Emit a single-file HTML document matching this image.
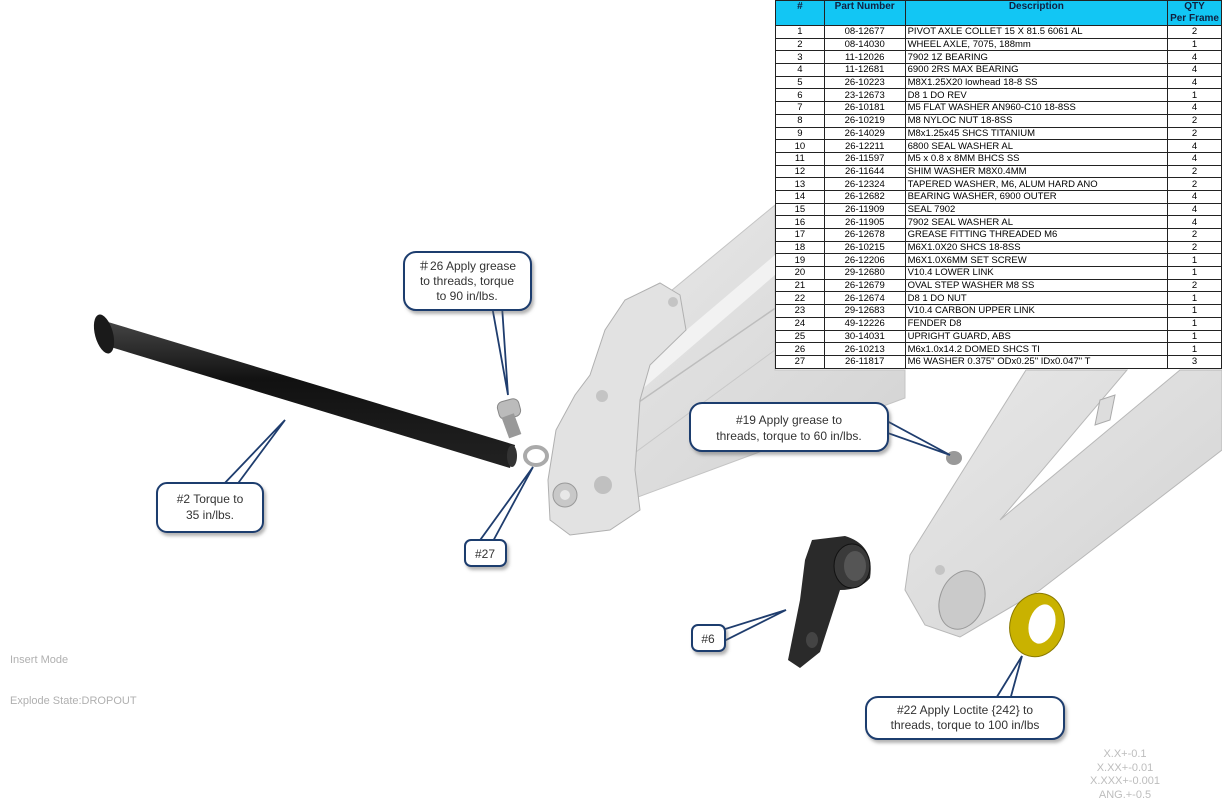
<!DOCTYPE html>
<html><head><meta charset="utf-8"><style>
body{margin:0;width:1222px;height:808px;background:#fff;position:relative;overflow:hidden;font-family:"Liberation Sans",sans-serif}
svg{position:absolute;left:0;top:0}
table{position:absolute;left:775px;top:0;width:447px;border-collapse:collapse;font-size:9.5px;background:#fff}
td,th{border:1px solid #222;padding:0 2px;height:11.7px;line-height:11px;white-space:nowrap;overflow:hidden}
th{background:#12c6f4;color:#102040;font-size:10px;font-weight:bold;height:24px;vertical-align:top;line-height:12px;padding-top:0}
td.c{text-align:center}
.t{position:absolute;color:#b0b0b0;font-size:11px}
.tol{position:absolute;left:1075px;top:748px;width:100px;text-align:center;color:#bdbdbd;font-size:11px;line-height:13.5px}
</style></head><body>
<svg width="1222" height="808" viewBox="0 0 1222 808">
<defs>
<filter id="sh" x="-10%" y="-10%" width="130%" height="140%"><feDropShadow dx="2" dy="3" stdDeviation="1.5" flood-color="#666" flood-opacity="0.5"/></filter>
<linearGradient id="ax" x1="0" y1="0" x2="0" y2="1"><stop offset="0" stop-color="#444"/><stop offset=".4" stop-color="#111"/><stop offset="1" stop-color="#222"/></linearGradient>
<linearGradient id="fr" x1="0" y1="0" x2="1" y2="1"><stop offset="0" stop-color="#e8e8e8"/><stop offset="1" stop-color="#d2d2d2"/></linearGradient>
</defs>
<!-- left frame stays -->
<polygon points="600,385 660,300 775,205 775,370 905,370 905,398 630,500 620,450" fill="url(#fr)" stroke="#c4c4c4"/>
<polygon points="610,395 775,255 775,275 618,410" fill="#f2f2f2"/>
<line x1="623" y1="413" x2="777" y2="307" stroke="#bdbdbd" stroke-width="1.5"/>
<line x1="625" y1="460" x2="775" y2="350" stroke="#c8c8c8" stroke-width="1"/>
<polygon points="548,480 556,430 575,395 590,375 605,330 625,300 660,283 680,295 686,330 650,365 640,400 635,470 640,510 610,530 570,535 550,520" fill="#e2e2e2" stroke="#b0b0b0"/>
<circle cx="565" cy="495" r="12" fill="#c8c8c8" stroke="#999"/>
<circle cx="565" cy="495" r="5" fill="#e8e8e8"/>
<circle cx="603" cy="485" r="9" fill="#c0c0c0"/>
<circle cx="602" cy="396" r="6" fill="#c4c4c4"/>
<circle cx="673" cy="302" r="5" fill="#c4c4c4"/>
<!-- right frame -->
<polygon points="1026,370 1127,370 1000,520 1180,370 1222,370 1222,450 1040,590 960,637 925,625 905,590 910,555" fill="url(#fr)" stroke="#b8b8b8"/>
<polygon points="1100,400 1115,395 1110,420 1095,425" fill="#ddd" stroke="#aaa"/>
<ellipse cx="962" cy="600" rx="22" ry="30" fill="#cacaca" stroke="#999" transform="rotate(20 962 600)"/>
<circle cx="940" cy="570" r="5" fill="#c4c4c4"/>
<!-- axle -->
<polygon points="108,322 515,445 510,468 104,345" fill="url(#ax)"/>
<ellipse cx="104" cy="334" rx="9" ry="20" fill="#1a1a1a" transform="rotate(-15 104 334)"/>
<ellipse cx="512" cy="456" rx="5" ry="11" fill="#333"/>
<!-- bolt & washer -->
<rect x="498" y="400" width="22" height="18" rx="6" fill="#bbb" stroke="#888" transform="rotate(-15 509 409)"/>
<rect x="505" y="415" width="13" height="22" fill="#999" transform="rotate(-20 511 426)"/>
<ellipse cx="536" cy="456" rx="11" ry="9" fill="none" stroke="#aaa" stroke-width="4"/>
<!-- grease fitting -->
<ellipse cx="954" cy="458" rx="8" ry="7" fill="#999"/>
<!-- link #6 -->
<path d="M812,540 L845,536 Q875,545 870,578 Q860,590 840,590 L820,652 L800,668 L788,660 L800,600 L805,560 Z" fill="#2a2a2a"/>
<ellipse cx="852" cy="566" rx="18" ry="22" fill="#3a3a3a" stroke="#111"/>
<ellipse cx="855" cy="566" rx="11" ry="15" fill="#555"/>
<ellipse cx="812" cy="640" rx="6" ry="8" fill="#444"/>
<!-- yellow nut -->
<ellipse cx="1037" cy="625" rx="27" ry="32" fill="#c9b200" stroke="#8a7a00" transform="rotate(15 1037 625)"/>
<ellipse cx="1042" cy="624" rx="13" ry="20" fill="#fff" transform="rotate(15 1042 624)"/>
<!-- callout tails -->
<g fill="#fff" stroke="#1f3d6e" stroke-width="1.8">
<polygon points="492,306 502,306 508,395"/>
<polygon points="885,420 885,432 950,455"/>
<polygon points="222,486 236,486 285,420"/>
<polygon points="478,543 492,543 533,467"/>
<polygon points="722,630 722,642 786,610"/>
<polygon points="995,700 1010,700 1022,656"/>
</g>
<g fill="#fff" stroke="#1f3d6e" stroke-width="2" filter="url(#sh)">
<rect x="404" y="252" width="127" height="58" rx="12"/>
<rect x="690" y="403" width="198" height="48" rx="12"/>
<rect x="157" y="483" width="106" height="49" rx="10"/>
<rect x="465" y="540" width="41" height="26" rx="6"/>
<rect x="692" y="625" width="33" height="26" rx="6"/>
<rect x="866" y="697" width="198" height="42" rx="12"/>
</g>
<g fill="#333" font-family="Liberation Sans, sans-serif" font-size="12" text-anchor="middle">
<text x="467" y="270">＃26 Apply grease</text>
<text x="467" y="285">to threads, torque</text>
<text x="467" y="300">to 90 in/lbs.</text>
<text x="789" y="424">#19 Apply grease to</text>
<text x="789" y="440">threads, torque to 60 in/lbs.</text>
<text x="210" y="503">#2 Torque to</text>
<text x="210" y="519">35 in/lbs.</text>
<text x="485" y="558">#27</text>
<text x="708" y="643">#6</text>
<text x="965" y="714">#22 Apply Loctite {242} to</text>
<text x="965" y="729">threads, torque to 100 in/lbs</text>
</g>
</svg>
<table>
<tr><th style="width:44px">#</th><th style="width:76px">Part Number</th><th style="width:258px">Description</th><th>QTY<br>Per Frame</th></tr>
<tr><td class="c">1</td><td class="c">08-12677</td><td>PIVOT AXLE COLLET 15 X 81.5 6061 AL</td><td class="c">2</td></tr>
<tr><td class="c">2</td><td class="c">08-14030</td><td>WHEEL AXLE, 7075, 188mm</td><td class="c">1</td></tr>
<tr><td class="c">3</td><td class="c">11-12026</td><td>7902 1Z BEARING</td><td class="c">4</td></tr>
<tr><td class="c">4</td><td class="c">11-12681</td><td>6900 2RS MAX BEARING</td><td class="c">4</td></tr>
<tr><td class="c">5</td><td class="c">26-10223</td><td>M8X1.25X20 lowhead 18-8 SS</td><td class="c">4</td></tr>
<tr><td class="c">6</td><td class="c">23-12673</td><td>D8 1 DO REV</td><td class="c">1</td></tr>
<tr><td class="c">7</td><td class="c">26-10181</td><td>M5 FLAT WASHER AN960-C10 18-8SS</td><td class="c">4</td></tr>
<tr><td class="c">8</td><td class="c">26-10219</td><td>M8 NYLOC NUT 18-8SS</td><td class="c">2</td></tr>
<tr><td class="c">9</td><td class="c">26-14029</td><td>M8x1.25x45 SHCS TITANIUM</td><td class="c">2</td></tr>
<tr><td class="c">10</td><td class="c">26-12211</td><td>6800 SEAL WASHER AL</td><td class="c">4</td></tr>
<tr><td class="c">11</td><td class="c">26-11597</td><td>M5 x 0.8 x 8MM BHCS SS</td><td class="c">4</td></tr>
<tr><td class="c">12</td><td class="c">26-11644</td><td>SHIM WASHER M8X0.4MM</td><td class="c">2</td></tr>
<tr><td class="c">13</td><td class="c">26-12324</td><td>TAPERED WASHER, M6, ALUM HARD ANO</td><td class="c">2</td></tr>
<tr><td class="c">14</td><td class="c">26-12682</td><td>BEARING WASHER, 6900 OUTER</td><td class="c">4</td></tr>
<tr><td class="c">15</td><td class="c">26-11909</td><td>SEAL 7902</td><td class="c">4</td></tr>
<tr><td class="c">16</td><td class="c">26-11905</td><td>7902 SEAL WASHER AL</td><td class="c">4</td></tr>
<tr><td class="c">17</td><td class="c">26-12678</td><td>GREASE FITTING THREADED M6</td><td class="c">2</td></tr>
<tr><td class="c">18</td><td class="c">26-10215</td><td>M6X1.0X20 SHCS 18-8SS</td><td class="c">2</td></tr>
<tr><td class="c">19</td><td class="c">26-12206</td><td>M6X1.0X6MM SET SCREW</td><td class="c">1</td></tr>
<tr><td class="c">20</td><td class="c">29-12680</td><td>V10.4 LOWER LINK</td><td class="c">1</td></tr>
<tr><td class="c">21</td><td class="c">26-12679</td><td>OVAL STEP WASHER M8 SS</td><td class="c">2</td></tr>
<tr><td class="c">22</td><td class="c">26-12674</td><td>D8 1 DO NUT</td><td class="c">1</td></tr>
<tr><td class="c">23</td><td class="c">29-12683</td><td>V10.4 CARBON UPPER LINK</td><td class="c">1</td></tr>
<tr><td class="c">24</td><td class="c">49-12226</td><td>FENDER D8</td><td class="c">1</td></tr>
<tr><td class="c">25</td><td class="c">30-14031</td><td>UPRIGHT GUARD, ABS</td><td class="c">1</td></tr>
<tr><td class="c">26</td><td class="c">26-10213</td><td>M6x1.0x14.2 DOMED SHCS TI</td><td class="c">1</td></tr>
<tr><td class="c">27</td><td class="c">26-11817</td><td>M6 WASHER 0.375" ODx0.25" IDx0.047" T</td><td class="c">3</td></tr>
</table>
<div class="t" style="left:10px;top:654px">Insert Mode</div>
<div class="t" style="left:10px;top:695px">Explode State:DROPOUT</div>
<div class="tol">X.X+-0.1<br>X.XX+-0.01<br>X.XXX+-0.001<br>ANG.+-0.5</div>
</body></html>
